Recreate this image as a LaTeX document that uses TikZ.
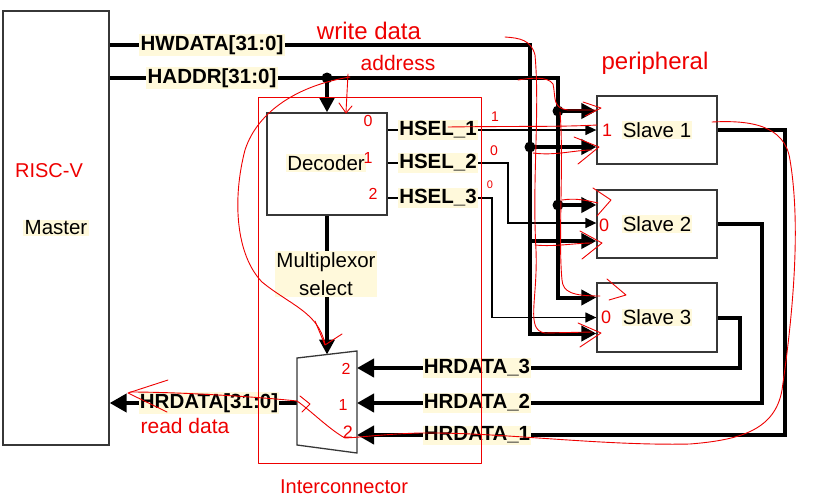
\documentclass[tikz,border=0pt]{standalone}
\usepackage{fontspec}
\setmainfont{Liberation Sans}
\usetikzlibrary{arrows.meta,calc,backgrounds}
\definecolor{lblbg}{RGB}{255,249,219}
\definecolor{boxline}{RGB}{55,55,55}
\definecolor{ink}{RGB}{238,0,0}
\begin{document}
\begin{tikzpicture}[x=1pt,y=-1pt,line join=miter,
  box/.style={draw=boxline,line width=1.3pt,fill=white,inner sep=0pt},
  bus/.style={line width=4pt},
  sig/.style={line width=1.3pt},
  lbl/.style={fill=lblbg,inner sep=1.2pt,font=\fontsize{20.5}{23}\selectfont},
  blbl/.style={lbl,font=\fontsize{20.5}{23}\selectfont\bfseries},
  bigtip/.style={-{Triangle[length=15pt,width=15pt]}},
  muxtip/.style={-{Triangle[length=17pt,width=18pt]}},
  thintip/.style={-{Triangle[length=11pt,width=10pt]}},
  jdot/.style={circle,fill=black,inner sep=0pt,minimum size=11pt},
  hand/.style={draw=ink,line width=0.9pt,line cap=round,line join=round},
  htxt/.style={text=ink,inner sep=0pt,font=\fontsize{#1}{#1}\selectfont},
  htxt/.default=16]
\useasboundingbox (0,0) rectangle (827,498);

% ---------- blocks ----------
\node[box,minimum width=106pt,minimum height=434pt] (master) at (56,228) {};
\node[lbl] (mastert) at (56,228) {Master};
\node[box,minimum width=120pt,minimum height=102pt] (dec) at (327,164) {};
\node[lbl] (dect) at (326,163) {Decoder};
\node[box,minimum width=120pt,minimum height=68pt] (s1) at (657,130) {};
\node[lbl] (s1t) at (657,130) {Slave 1};
\node[box,minimum width=120pt,minimum height=68pt] (s2) at (657,224) {};
\node[lbl] (s2t) at (657,224) {Slave 2};
\node[box,minimum width=120pt,minimum height=69pt] (s3) at (657,317.5) {};
\node[lbl] (s3t) at (657,317.5) {Slave 3};

% multiplexor
\draw[draw=boxline,line width=1.3pt,fill=white]
  (297,358) coordinate (mtl) -- (357,351) coordinate (mtr) --
  (357,453) coordinate (mbr) -- (297,445) coordinate (mbl) -- cycle;
\coordinate (muxtop) at (327,354.5);
\coordinate (mux3) at (357,368);
\coordinate (mux2) at (357,403);
\coordinate (mux1) at (357,435);
\coordinate (muxout) at (297,403);

% ---------- labels ----------
\node[blbl] (hw) at (212,45) {HWDATA[31:0]};
\node[blbl] (ha) at (212,78) {HADDR[31:0]};
\node[blbl] (h1) at (438,130) {HSEL\_1};
\node[blbl] (h2) at (438,163) {HSEL\_2};
\node[blbl] (h3) at (438,198) {HSEL\_3};
\node[blbl] (r3) at (477,368) {HRDATA\_3};
\node[blbl] (r2) at (477,403) {HRDATA\_2};
\node[blbl] (r1) at (477,435) {HRDATA\_1};
\node[blbl] (rd) at (209,403) {HRDATA[31:0]};
\node[lbl,align=center,font=\fontsize{20.5}{28}\selectfont] (msel) at (326,274) {Multiplexor\\select};

% ---------- routing coordinates ----------
\coordinate (hwx) at (530,0);
\coordinate (hax) at (558,0);
\coordinate (h2x) at (508,0);
\coordinate (h3x) at (492,0);
\coordinate (rx1) at (785,0);
\coordinate (rx2) at (762,0);
\coordinate (rx3) at (740,0);
\coordinate (s1a) at ($(s1.west)+(0,-19)$);
\coordinate (s1m) at (s1.west);
\coordinate (s1d) at ($(s1.west)+(0,17)$);
\coordinate (s2a) at ($(s2.west)+(0,-19)$);
\coordinate (s2m) at ($(s2.west)+(0,-1)$);
\coordinate (s2d) at ($(s2.west)+(0,17)$);
\coordinate (s3a) at ($(s3.west)+(0,-20)$);
\coordinate (s3m) at (s3.west);
\coordinate (s3d) at ($(s3.west)+(0,16)$);

% ---------- connectors ----------
\begin{scope}[on background layer]
  \draw[bus,bigtip] (master.east |- hw) -| (hwx |- s3d) -- (s3d);
  \draw[bus,bigtip] (hwx |- s1d) -- (s1d);
  \draw[bus,bigtip] (hwx |- s2d) -- (s2d);
  \draw[bus,bigtip] (master.east |- ha) -| (hax |- s3a) -- (s3a);
  \draw[bus,bigtip] (hax |- s1a) -- (s1a);
  \draw[bus,bigtip] (hax |- s2a) -- (s2a);
  \draw[bus,bigtip] (dec.north |- ha) -- (dec.north);
  \draw[sig,thintip] (dec.east |- h1) -- (s1m);
  \draw[sig,thintip] (dec.east |- h2) -| (h2x |- s2m) -- (s2m);
  \draw[sig,thintip] (dec.east |- h3) -| (h3x |- s3m) -- (s3m);
  \draw[bus,bigtip] (dec.south) -- (muxtop);
  \draw[bus,muxtip] (s1.east) -| (rx1 |- r1) -- (mux1);
  \draw[bus,muxtip] (s2.east) -| (rx2 |- r2) -- (mux2);
  \draw[bus,muxtip] (s3.east) -| (rx3 |- r3) -- (mux3);
  \draw[bus,muxtip] (muxout) -- (master.east |- muxout);
\end{scope}
\node[jdot] (d1) at (dec.north |- ha) {};
\node[jdot] (d2) at (hax |- s1a) {};
\node[jdot] (d3) at (hax |- s2a) {};
\node[jdot] (d4) at (hwx |- s1d) {};

% ---------- handwritten annotations ----------
\draw[hand] (258,97) rectangle (481,463);
\node[htxt=24] (tw) at (369,31) {write data};
\node[htxt=21] (ta) at (398,63) {address};
\node[htxt=24] (tp) at (655,63) {peripheral};
\node[htxt=20] (tr) at (49,171) {RISC-V};
\node[htxt=21] (trd) at (185,426) {read data};
\node[htxt=20] (ti) at (344,487) {Interconnector};
\node[htxt] (n1) at (368,121) {0};
\node[htxt] (n2) at (368,158) {1};
\node[htxt] (n3) at (373,194) {2};
\node[htxt=14] (n4) at (495,117) {1};
\node[htxt=14] (n5) at (494,151) {0};
\node[htxt=11] (n6) at (490,185) {0};
\node[htxt=18] (n7) at (607,130) {1};
\node[htxt=18] (n8) at (604,225) {0};
\node[htxt=18] (n9) at (606,317) {0};
\node[htxt] (n10) at (346,369) {2};
\node[htxt] (n11) at (343,405) {1};
\node[htxt=18] (n12) at (348,432) {2};

% write data trace
\draw[hand] (505,37) .. controls (520,38) and (531,40) .. (535,55)
  .. controls (540,110) and (532,180) .. (536,250)
  .. controls (538,300) and (525,330) .. (545,333) -- (592,332);
\draw[hand] (533,153) .. controls (555,156) and (575,150) .. (592,150);
\draw[hand] (535,245) .. controls (555,247) and (575,243) .. (592,243);
% address trace
\draw[hand] (518,80) .. controls (530,78) and (548,76) .. (553,84)
  .. controls (556,98) and (552,108) .. (568,110) -- (596,110);
\draw[hand] (560,112) .. controls (564,160) and (558,240) .. (562,280)
  .. controls (563,292) and (572,296) .. (600,296);
\draw[hand] (562,200) .. controls (575,198) and (585,200) .. (598,203);
% chevrons at slave inputs
\draw[hand] (583,102) -- (601,108) -- (585,116);
\draw[hand] (574,137) -- (599,147) -- (578,164);
\draw[hand] (593,188) -- (611,200) -- (597,216);
\draw[hand] (580,231) -- (602,243) -- (582,259);
\draw[hand] (607,279) -- (626,295) -- (609,300);
\draw[hand] (578,323) -- (601,333) -- (580,347);
% HSEL_1 trace
\draw[hand] (448,127) .. controls (520,126) and (560,127) .. (597,125);
% address arrow into decoder
\draw[hand] (348,74) -- (346,112);
\draw[hand] (339,103) -- (346,113) -- (352,106);
% address to multiplexor select
\draw[hand] (350,77) .. controls (300,85) and (258,110) .. (245,150)
  .. controls (232,200) and (236,255) .. (262,282)
  .. controls (290,305) and (318,312) .. (325,344);
\draw[hand] (315,321) -- (325,345) -- (342,334);
% read data trace
\draw[hand] (712,122) .. controls (750,120) and (785,125) .. (790,160)
  .. controls (800,220) and (795,300) .. (782,390)
  .. controls (775,430) and (740,440) .. (690,444)
  .. controls (600,446) and (500,432) .. (420,433)
  .. controls (385,434) and (365,437) .. (345,438)
  .. controls (330,430) and (310,410) .. (297,401)
  .. controls (260,397) and (180,392) .. (130,392);
\draw[hand] (168,380) -- (128,393) -- (167,412);
\draw[hand] (300,396) -- (310,404) -- (302,412);
\end{tikzpicture}
\end{document}
